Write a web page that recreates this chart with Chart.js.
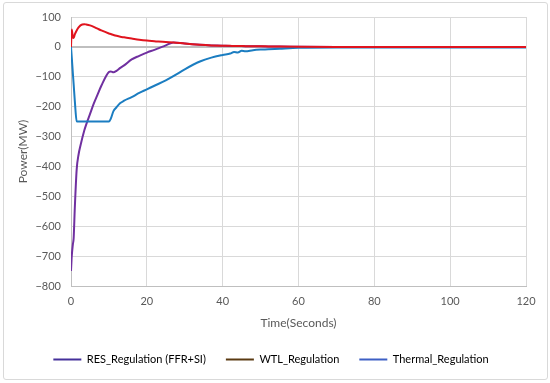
<!DOCTYPE html>
<html>
<head>
<meta charset="utf-8">
<script src="https://cdn.jsdelivr.net/npm/chart.js@4"></script>
<style>
  html, body { margin: 0; padding: 0; background: #fff; }
  #frame { position: absolute; left: 3px; top: 2px; width: 543px; height: 376px; border: 1px solid #d9d9d9; border-radius: 3px; }
  #wrap { position: absolute; left: 0; top: 0; width: 550px; height: 383px; }
</style>
</head>
<body>
<div id="frame"></div>
<div id="wrap"><canvas id="myChart" width="550" height="383"></canvas></div>
<script>
const times = [0, 0.2, 0.5, 0.7, 1, 1.5, 2, 2.5, 3.5, 4, 5, 6, 7, 8, 10, 10.5, 11.2, 12, 13, 14, 16, 18, 20, 22, 25, 27, 30, 34, 37, 40, 42, 43, 44, 45, 46, 48, 50, 52, 55, 60, 70, 80, 90, 100, 110, 120];
const resValues = [-750, -700, -660, -640, -540, -410, -360, -330, -280, -260, -225, -190, -160, -130, -84, -82, -85, -80, -70, -62, -42, -30, -19, -10, 5, 15, 11, 7, 5, 4, 3, 3, 3, 3, 2, 2, 2, 1, 1, 0.5, 0, 0, 0, 0, 0, 0];
const wtlValues = [0, 58, 32, 30, 42, 55, 65, 72, 76, 75, 72, 67, 61, 55, 45, 43, 40, 37, 34, 32, 28, 24, 21, 19, 16, 15, 11, 7, 5, 4, 3.5, 3, 3, 3, 2.5, 2, 2, 1.5, 1, 0.5, 0, 0, 0, 0, 0, 0];
const thermalValues = [0, -35, -90, -125, -180, -249, -250, -250, -250, -250, -250, -250, -250, -250, -250, -240, -215, -202, -188, -180, -168, -154, -142, -130, -112, -98, -75, -49, -36, -27, -22, -17, -19, -13, -15, -11, -9, -8, -6, -3, -2, -2, -2, -2, -2, -2];
const xTicks = [0, 20, 40, 60, 80, 100, 120];
const yTicks = [100, 0, -100, -200, -300, -400, -500, -600, -700, -800];

const seriesNames = ['RES_Regulation (FFR+SI)', 'WTL_Regulation', 'Thermal_Regulation'];
const lineColors = ['#7030A0', '#E0141E', '#1B7DC1'];
const legendColors = ['#45309A', '#5A3A12', '#3D5FC4'];

const pts = vals => times.map((t, i) => ({ x: t, y: vals[i] }));
const font = { family: 'Lato', size: 11 };

const ctx = document.getElementById('myChart');
new Chart(ctx, {
  type: 'line',
  data: {
    datasets: [
      { label: seriesNames[0], data: pts(resValues), borderColor: lineColors[0], backgroundColor: lineColors[0], borderWidth: 2, pointRadius: 0, cubicInterpolationMode: 'monotone', order: 2 },
      { label: seriesNames[1], data: pts(wtlValues), borderColor: lineColors[1], backgroundColor: lineColors[1], borderWidth: 2, pointRadius: 0, cubicInterpolationMode: 'monotone', order: 0 },
      { label: seriesNames[2], data: pts(thermalValues), borderColor: lineColors[2], backgroundColor: lineColors[2], borderWidth: 2, pointRadius: 0, cubicInterpolationMode: 'monotone', order: 1 }
    ]
  },
  options: {
    responsive: false,
    animation: false,
    layout: { padding: { left: 16, right: 24, top: 17, bottom: 8 } },
    plugins: {
      tooltip: { enabled: false },
      legend: {
        position: 'bottom',
        labels: {
          color: '#595959',
          font: font,
          boxWidth: 28,
          boxHeight: 2,
          padding: 20,
          generateLabels: chart => seriesNames.map((n, i) => ({
            text: n, fillStyle: legendColors[i], strokeStyle: legendColors[i], lineWidth: 0, datasetIndex: i
          }))
        }
      }
    },
    scales: {
      x: {
        type: 'linear',
        min: 0, max: 120,
        afterBuildTicks: s => { s.ticks = xTicks.map(v => ({ value: v })); },
        afterFit: s => { s.height = 48; },
        ticks: { color: '#595959', font: font, padding: 9, maxRotation: 0 },
        grid: { color: '#d9d9d9', drawTicks: false },
        border: { color: '#bfbfbf' },
        title: { display: true, text: 'Time(Seconds)', color: '#595959', font: { family: 'Lato', size: 12 }, padding: { top: 2 } }
      },
      y: {
        min: -800, max: 100,
        afterBuildTicks: s => { s.ticks = yTicks.map(v => ({ value: v })); },
        afterFit: s => { s.width = 55; },
        ticks: {
          color: '#595959', font: font, padding: 10,
          callback: v => String(v).replace('-', '\u2212')
        },
        grid: {
          drawTicks: false,
          color: c => c.tick && c.tick.value === 0 ? '#bfbfbf' : '#d9d9d9',
          lineWidth: c => c.tick && c.tick.value === 0 ? 2 : 1
        },
        border: { color: '#bfbfbf' },
        title: { display: true, text: 'Power(MW)', color: '#595959', font: { family: 'Lato', size: 12 }, padding: 0 }
      }
    }
  }
});
</script>
</body>
</html>
